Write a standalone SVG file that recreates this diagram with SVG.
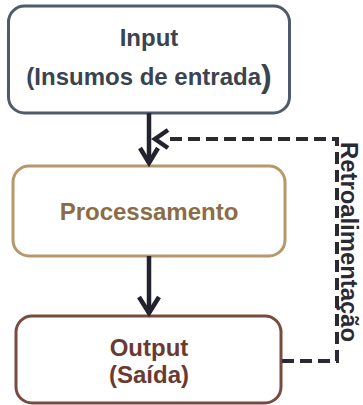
<svg xmlns="http://www.w3.org/2000/svg" width="363" height="405" viewBox="0 0 363 405">
<style>
.box{fill:#ffffff;stroke-width:3}
.t{font-family:"Liberation Sans",Arial,sans-serif;font-weight:bold;font-size:24px;text-anchor:middle}
.arrow{fill:none;stroke:#23232d;stroke-width:4.5;stroke-linecap:butt;stroke-linejoin:miter}
.dash{fill:none;stroke:#2a2a35;stroke-width:4;stroke-dasharray:12 6}
</style>
<rect width="363" height="405" fill="#ffffff"/>
<g id="input">
<rect class="box" x="8.5" y="6" width="281" height="107" rx="16" stroke="#4f5b6a"/>
<text class="t" x="149" y="46" fill="#3a4350">Input</text>
<text class="t" x="149" y="85" fill="#3a4350">(Insumos de entrada<tspan font-size="32px" dy="2">)</tspan></text>
</g>
<g id="processamento">
<rect class="box" x="13" y="166" width="272" height="90" rx="16" stroke="#b8976a"/>
<text class="t" x="149" y="220" fill="#8b6d45">Processamento</text>
</g>
<g id="output">
<rect class="box" x="16" y="316" width="265" height="87" rx="16" stroke="#7b4a3e"/>
<text class="t" x="149" y="356" fill="#6b3a30">Output</text>
<text class="t" x="149" y="383" fill="#6b3a30">(Saída)</text>
</g>
<g id="connectors">
<path class="arrow" d="M149,113 V163"/>
<path class="arrow" d="M140,148 L149,163 L158,148"/>
<path class="arrow" d="M149,256 V313"/>
<path class="arrow" d="M139,297 L149,313 L159,297"/>
<path class="dash" d="M282,361 H337 V139 H168"/>
<path class="arrow" d="M168,130 L155,139 L168,148"/>
<text class="t" transform="translate(341,242) rotate(90)" fill="#2a2a35" font-size="23px" textLength="200" lengthAdjust="spacingAndGlyphs">Retroalimentação</text>
</g>
</svg>
